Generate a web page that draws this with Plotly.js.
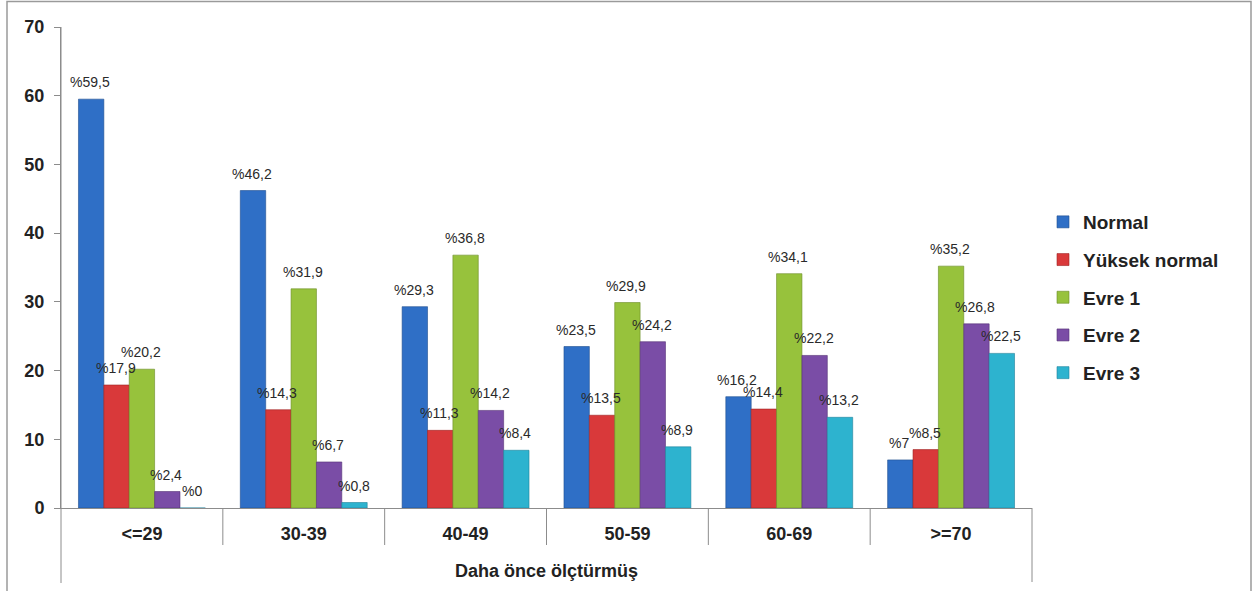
<!DOCTYPE html>
<html>
<head>
<meta charset="utf-8">
<script src="https://cdn.plot.ly/plotly-3.0.1.min.js"></script>
<style>
html,body{margin:0;padding:0;background:#fff;}
#chart{width:1253px;height:591px;}
</style>
</head>
<body>
<div id="chart"></div>
<script>
var categories = ['<=29', '30-39', '40-49', '50-59', '60-69', '>=70'];
var seriesNames = ['Normal', 'Yüksek normal', 'Evre 1', 'Evre 2', 'Evre 3'];
var normal = [59.5, 46.2, 29.3, 23.5, 16.2, 7];
var yuksekNormal = [17.9, 14.3, 11.3, 13.5, 14.4, 8.5];
var evre1 = [20.2, 31.9, 36.8, 29.9, 34.1, 35.2];
var evre2 = [2.4, 6.7, 14.2, 24.2, 22.2, 26.8];
var evre3 = [0, 0.8, 8.4, 8.9, 13.2, 22.5];
var yTicks = [0, 10, 20, 30, 40, 50, 60, 70];
var xTitle = 'Daha önce ölçtürmüş';

var seriesValues = [normal, yuksekNormal, evre1, evre2, evre3];
var colors = ['#2F6FC6', '#D9393A', '#97C23C', '#7A4DA6', '#2DB3CF'];
var lineColors = ['#1F4E8F', '#9E2424', '#6A8C25', '#553375', '#1E819A'];

function label(v) { return '%' + String(v).replace('.', ','); }

var L = 61, R = 1032, T = 27, B = 508, W = 1253, H = 591;
var pw = R - L, ph = B - T;
var BARGAP = 0.216;
var nS = seriesValues.length;
var catPx = pw / categories.length;
var barPx = catPx * (1 - BARGAP) / nS;
function px(x) { return (x - L) / pw; }
function py(y) { return (B - y) / ph; }

var traces = seriesValues.map(function (vals, i) {
  return {
    type: 'bar',
    name: seriesNames[i],
    x: categories,
    y: vals,
    marker: {color: colors[i], line: {color: lineColors[i], width: 0.6}},
    legendgroup: 'g' + i,
    hoverinfo: 'x+y'
  };
});

var annotations = [];
seriesValues.forEach(function (vals, i) {
  vals.forEach(function (v, j) {
    annotations.push({
      xref: 'x', yref: 'y', x: categories[j], y: v,
      text: label(v), showarrow: false,
      xanchor: 'center', yanchor: 'bottom',
      xshift: (i - (nS - 1) / 2) * barPx - 1, yshift: 7,
      font: {family: 'Liberation Sans, Arial, sans-serif', size: 14, color: '#2a2a2a'}
    });
  });
});

var shapes = [];
for (var i = 1; i < categories.length; i++) {
  shapes.push({type: 'line', xref: 'x', yref: 'paper', x0: i - 0.5, x1: i - 0.5,
    y0: 0, y1: py(545), line: {color: '#8c8c8c', width: 1}});
}
shapes.push({type: 'line', xref: 'paper', yref: 'paper', x0: 1, x1: 1,
  y0: 0, y1: py(582), line: {color: '#8c8c8c', width: 1}});
shapes.push({type: 'line', xref: 'paper', yref: 'paper', x0: 0, x1: 0,
  y0: 1, y1: py(583), line: {color: '#8c8c8c', width: 1}});
shapes.push({type: 'rect', xref: 'paper', yref: 'paper', x0: px(7), x1: px(1251),
  y0: py(595), y1: py(1.5), line: {color: '#9a9a9a', width: 1.5}, fillcolor: 'rgba(0,0,0,0)'});

var layout = {
  width: W, height: H,
  margin: {l: L, r: W - R, t: T, b: H - B, pad: 0},
  paper_bgcolor: '#fff', plot_bgcolor: '#fff',
  bargap: BARGAP, bargroupgap: 0,
  barmode: 'group',
  font: {family: 'Liberation Sans, Arial, sans-serif', color: '#222'},
  xaxis: {
    type: 'category',
    showgrid: false,
    showline: true, linecolor: '#8c8c8c', linewidth: 1,
    ticks: 'outside', ticklen: 9, tickcolor: 'rgba(0,0,0,0)',
    tickfont: {size: 18, color: '#222', weight: 'bold'},
    title: {text: xTitle, font: {size: 18, color: '#222', weight: 'bold'}, standoff: 21},
    zeroline: false
  },
  yaxis: {
    range: [0, 70],
    tickvals: yTicks,
    showgrid: false,
    zeroline: false,
    showline: true, linecolor: '#8c8c8c', linewidth: 1,
    ticks: 'outside', ticklen: 6, tickcolor: '#8c8c8c',
    ticklabelstandoff: 6,
    tickfont: {size: 18, color: '#222', weight: 'bold'}
  },
  legend: {
    x: px(1043), y: py(203), xanchor: 'left', yanchor: 'top',
    font: {size: 19, color: '#222', weight: 'bold'},
    tracegroupgap: 10,
    itemwidth: 30,
    bgcolor: 'rgba(0,0,0,0)'
  },
  showlegend: true,
  shapes: shapes,
  annotations: annotations
};

Plotly.newPlot('chart', traces, layout, {displayModeBar: false, staticPlot: true});
</script>
</body>
</html>
